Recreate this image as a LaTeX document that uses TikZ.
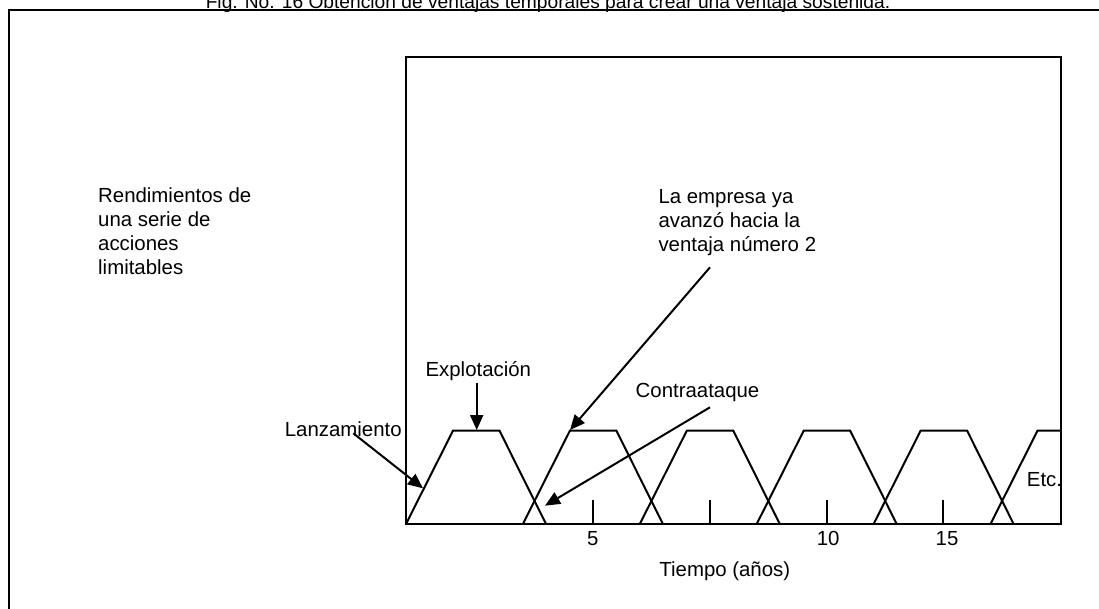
\documentclass[tikz,border=0pt]{standalone}
\usepackage{fontspec}
\setmainfont{Liberation Sans}
\usetikzlibrary{arrows.meta}
\begin{document}
\begin{tikzpicture}[x=1pt,y=-1pt,
  line/.style={line width=2pt, line join=miter},
  lbl/.style={inner sep=0pt, font=\fontsize{20.4}{24}\selectfont},
  mlbl/.style={lbl, align=left, anchor=north west},
  arr/.style={line width=2pt, -{Triangle[length=15pt,width=13pt]}}]
\useasboundingbox (0,0) rectangle (1099,609);
% outer frame (extends past the image edges)
\draw[line] (8.7,640) -- (8.7,10.3) -- (1130,10.3);
% title
\node[inner sep=0pt, font=\fontsize{19.2}{23}\selectfont, anchor=base] (title) at (548,8.5) {Fig. No. 16 Obtención de ventajas temporales para crear una ventaja sostenida.};
% inner box
\draw[line] (406,56.7) rectangle (1060.5,524);
% trapezoids
\def\pp{116.9}
\foreach \k in {0,...,4}{
  \pgfmathsetmacro{\xo}{406+\k*\pp}
  \draw[line] (\xo,524) -- ({\xo+47},430.7) -- ({\xo+93.5},430.7) -- ({\xo+140},524);
}
\draw[line] ({406+5*\pp},524) -- ({406+5*\pp+47},430.7) -- (1060.5,430.7);
% ticks
\foreach \tx in {592.7,709.8,826.7,943.3}{
  \draw[line] (\tx,500) -- (\tx,524);
}
% axis labels
\node[lbl, anchor=base] (t5) at (592.7,545.5) {5};
\node[lbl, anchor=base] (t10) at (828.2,545.5) {10};
\node[lbl, anchor=base] (t15) at (947,545.5) {15};
\node[lbl, anchor=base] (tiempo) at (724.8,576) {Tiempo (años)};
\node[lbl, anchor=base west] (etc) at (1026.7,486.7) {Etc.};
% left text
\node[mlbl] (rend) at (98,187.5) {Rendimientos de\\una serie de\\acciones\\limitables};
% labels with arrows
\node[lbl, anchor=base] (expl) at (478.3,376.3) {Explotación};
\node[lbl, anchor=base] (lanz) at (343.3,436.7) {Lanzamiento};
\node[lbl, anchor=base] (contra) at (697.5,397.3) {Contraataque};
\node[mlbl] (empresa) at (658.3,189.3) {La empresa ya\\avanzó hacia la\\ventaja número 2};
\coordinate (explS) at (476.7,383.3);
\coordinate (explT) at (476.7,430);
\coordinate (lanzS) at (353.3,433.3);
\coordinate (lanzT) at (423,488.3);
\coordinate (contraS) at (710,407.3);
\coordinate (contraT) at (545,505.7);
\coordinate (empS) at (710,267.3);
\coordinate (empT) at (570,430);
\draw[arr] (explS) -- (explT);
\draw[arr] (lanzS) -- (lanzT);
\draw[arr] (contraS) -- (contraT);
\draw[arr] (empS) -- (empT);
\end{tikzpicture}
\end{document}
